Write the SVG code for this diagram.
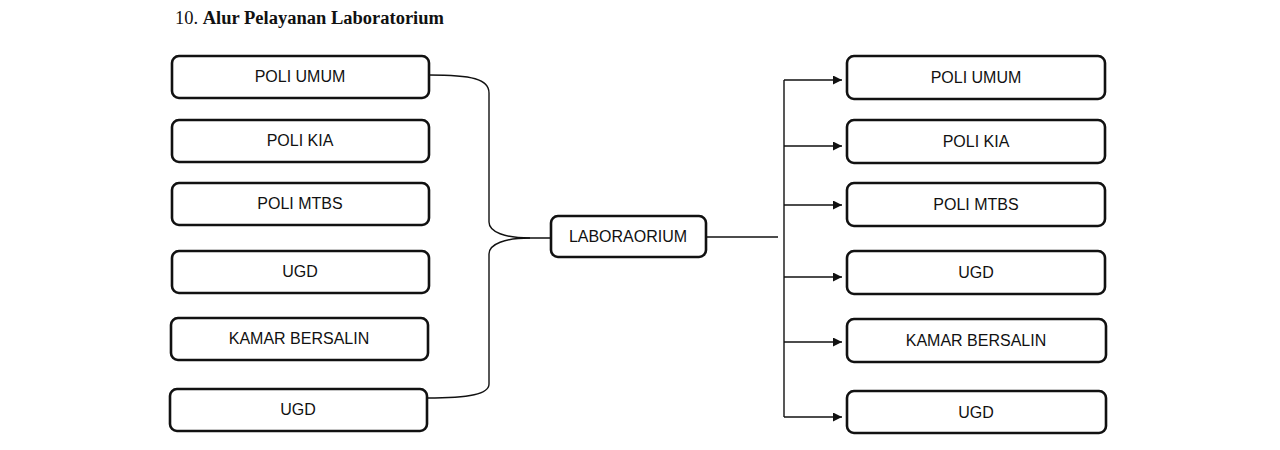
<svg xmlns="http://www.w3.org/2000/svg" width="1280" height="450" viewBox="0 0 1280 450">
<defs>
<style>
.box{fill:#fff;stroke:#111;stroke-width:2.6}
.lbl{font-family:"Liberation Sans",Arial,sans-serif;font-size:16px;fill:#111;text-anchor:middle}
.ln{fill:none;stroke:#111;stroke-width:1.4}
</style>
<marker id="ah" viewBox="0 0 10 10" refX="10" refY="5" markerWidth="9" markerHeight="9" markerUnits="userSpaceOnUse" orient="auto">
<path d="M0,0 L10,5 L0,10 z" fill="#111"/>
</marker>
</defs>
<rect width="1280" height="450" fill="#fff"/>
<text x="175" y="24" font-family="Liberation Serif,'Times New Roman',serif" font-size="18.5" fill="#111">10. <tspan font-weight="bold">Alur Pelayanan Laboratorium</tspan></text>

<g id="connectors">
<path class="ln" d="M429,75 C472,75 489,79 489,93 L489,222 C489,232 505,238 530,238 L551,238"/>
<path class="ln" d="M530,238 C505,238 489,244 489,254 L489,384 C489,394 470,398 427,398"/>
<path class="ln" d="M706,237 L778,237"/>
<path class="ln" d="M784,80 L784,417"/>
<path class="ln" marker-end="url(#ah)" d="M784,80 L842,80"/>
<path class="ln" marker-end="url(#ah)" d="M784,146 L842,146"/>
<path class="ln" marker-end="url(#ah)" d="M784,205 L842,205"/>
<path class="ln" marker-end="url(#ah)" d="M784,277 L842,277"/>
<path class="ln" marker-end="url(#ah)" d="M784,342 L842,342"/>
<path class="ln" marker-end="url(#ah)" d="M784,417 L842,417"/>
</g>

<g id="l1"><rect class="box" x="172" y="56" width="257" height="42" rx="7"/><text class="lbl" x="300" y="82">POLI UMUM</text></g>
<g id="l2"><rect class="box" x="172" y="120" width="257" height="42" rx="7"/><text class="lbl" x="300" y="146">POLI KIA</text></g>
<g id="l3"><rect class="box" x="172" y="183" width="257" height="42" rx="7"/><text class="lbl" x="300" y="209">POLI MTBS</text></g>
<g id="l4"><rect class="box" x="172" y="251" width="257" height="42" rx="7"/><text class="lbl" x="300" y="277">UGD</text></g>
<g id="l5"><rect class="box" x="171" y="318" width="257" height="42" rx="7"/><text class="lbl" x="299" y="344">KAMAR BERSALIN</text></g>
<g id="l6"><rect class="box" x="170" y="389" width="257" height="42" rx="7"/><text class="lbl" x="298" y="415">UGD</text></g>

<g id="lab"><rect class="box" x="551" y="216" width="155" height="41" rx="7"/><text class="lbl" x="628" y="242">LABORAORIUM</text></g>

<g id="r1"><rect class="box" x="847" y="56" width="258" height="43" rx="7"/><text class="lbl" x="976" y="83">POLI UMUM</text></g>
<g id="r2"><rect class="box" x="847" y="120" width="258" height="43" rx="7"/><text class="lbl" x="976" y="147">POLI KIA</text></g>
<g id="r3"><rect class="box" x="847" y="183" width="258" height="43" rx="7"/><text class="lbl" x="976" y="210">POLI MTBS</text></g>
<g id="r4"><rect class="box" x="847" y="251" width="258" height="43" rx="7"/><text class="lbl" x="976" y="278">UGD</text></g>
<g id="r5"><rect class="box" x="847" y="319" width="259" height="43" rx="7"/><text class="lbl" x="976" y="346">KAMAR BERSALIN</text></g>
<g id="r6"><rect class="box" x="847" y="391" width="259" height="42" rx="7"/><text class="lbl" x="976" y="418">UGD</text></g>
</svg>
